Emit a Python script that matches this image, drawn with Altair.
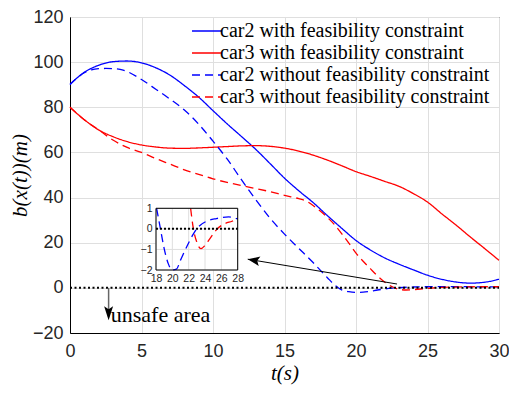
import altair as alt
import pandas as pd

SERIES = ["car2 with feasibility constraint", "car3 with feasibility constraint",
          "car2 without feasibility constraint", "car3 without feasibility constraint"]
COLORS = ["#0000ff", "#ff0000", "#0000ff", "#ff0000"]
DASHES = [[1, 0], [1, 0], [8, 5], [8, 5]]

# car2 with feasibility constraint (blue solid)
T_C2W = [0, 1, 2, 3, 4, 5, 6, 7, 8, 9, 10, 11, 12, 13, 14, 15, 16, 17, 18, 19, 20,
         21, 22, 23, 24, 25, 26, 27, 28, 29, 30]
B_C2W = [90.2, 95.5, 98.6, 100.2, 100.5, 99.7, 97.5, 94.2, 89.6, 84.5, 78.5, 72.6, 67, 61.3,
         55, 48.6, 43, 37.8, 32, 26.4, 21, 16.8, 13.3, 10.5, 8, 5.6, 3.8, 2.6, 2.1, 2.5, 3.8]

# car3 with feasibility constraint (red solid)
T_C3W = [0, 1, 2, 3, 4, 5, 6, 7, 8, 9, 10, 11, 12, 13, 14, 15, 16, 17, 18, 19, 20,
         21, 22, 23, 24, 25, 26, 27, 28, 29, 30]
B_C3W = [80, 74.5, 70, 67, 64.8, 63.3, 62.4, 61.9, 61.8, 62, 62.3, 62.6, 62.9, 63, 62.7,
         61.9, 60.6, 58.8, 56.6, 54.1, 51.5, 49.4, 47.2, 45, 41.8, 38, 32.8, 27.8, 22.5, 17.4, 12.2]

# car2 without feasibility constraint (blue dashed)
T_C2O = [0, 0.5, 1, 1.5, 2, 2.5, 3, 3.5, 4, 5, 6, 7, 8, 9, 10, 11, 12, 13, 14, 15, 16, 17,
         18, 18.5, 19, 19.5, 20, 20.5, 21, 21.5, 22, 22.5, 23, 24, 25, 26, 27, 28, 29, 30]
B_C2O = [90, 93, 95.3, 96.6, 97.1, 97.2, 97.1, 96.8, 95.8, 92.3, 88, 83.6, 78.8, 72.5, 65, 57,
         47.8, 39, 30.8, 23.8, 17.5, 11.2, 4.5, 1.3, -0.9, -1.7, -2, -1.9, -1.5, -0.95, -0.5,
         -0.15, 0.1, 0.37, 0.5, 0.55, 0.58, 0.5, 0.45, 0.4]

# car3 without feasibility constraint (red dashed)
T_C3O = [0, 1, 2, 3, 4, 5, 6, 7, 8, 9, 10, 11, 12, 13, 14, 15, 16, 16.5, 17, 17.5, 18, 18.5,
         19, 19.5, 20, 20.5, 21, 21.5, 22, 22.5, 23, 23.5, 24, 24.5, 25, 25.5, 26, 27, 28, 29, 30]
B_C3O = [80, 74.5, 70, 65.5, 62.2, 60, 57.3, 54.8, 52.3, 50.3, 48.3, 46.7, 45.3, 44, 42.6, 41,
         39.5, 38.5, 36.5, 34, 31.2, 28, 24, 19.8, 15.4, 11.8, 8.5, 5.3, 2.6, 0.6, -0.6, -0.95,
         -0.8, -0.5, -0.2, 0, 0.2, 0.35, 0.47, 0.5, 0.5]

# inset (zoom of 18..28 s, -2..1 m)
IN_T_C2O = [18.08, 18.5, 19.0, 19.5, 20.0, 20.5, 21.0, 21.75, 22.6, 23.2, 24.2, 25.4, 26.9, 27.9, 28.0]
IN_B_C2O = [0.99, 0.1, -0.96, -1.69, -2.0, -1.96, -1.52, -0.88, -0.23, 0.1, 0.37, 0.5, 0.58, 0.5, 0.49]
IN_T_C3O = [22.24, 22.57, 22.98, 23.5, 24.0, 24.6, 25.5, 26.2, 27.3, 28.0]
IN_B_C3O = [0.99, 0.02, -0.63, -0.96, -0.8, -0.47, 0.0, 0.21, 0.37, 0.47]
IN_X_TICKS = [18, 20, 22, 24, 26, 28]
IN_Y_TICKS = [-2, -1, 0, 1]

X_TICKS = [0, 5, 10, 15, 20, 25, 30]
Y_TICKS = [-20, 0, 20, 40, 60, 80, 100, 120]

# annotations
ZERO_T = [0, 30]
ARROW = {"t": [22.87], "b": [1.7], "t2": [12.43], "b2": [12.7]}
UNSAFE_ARROW = {"t": [2.7], "b": [0], "t2": [2.7], "b2": [-13.0]}
UNSAFE_HEAD = {"t": [2.7], "b": [-14.4]}
UNSAFE_TEXT = {"t": [2.85], "b": [-15.1], "label": ["unsafe area"]}

rows = []
for name, ts, bs in zip(SERIES, [T_C2W, T_C3W, T_C2O, T_C3O], [B_C2W, B_C3W, B_C2O, B_C3O]):
    rows += [{"t": t, "b": b, "series": name} for t, b in zip(ts, bs)]
df = pd.DataFrame(rows)

in_rows = []
for name, ts, bs in [(SERIES[2], IN_T_C2O, IN_B_C2O), (SERIES[3], IN_T_C3O, IN_B_C3O)]:
    in_rows += [{"it": t, "ib": b, "series": name} for t, b in zip(ts, bs)]
df_in = pd.DataFrame(in_rows)

SERIF = "Liberation Serif"
SANS = "Liberation Sans"

TOP = 17  # page y of the plot's top edge
W, H = 429, 316
xs = alt.Scale(domain=[0, 30], nice=False, zero=False)
ys = alt.Scale(domain=[-20, 120], nice=False, zero=False)
xaxis = alt.Axis(values=X_TICKS, grid=True, ticks=False, domainColor="black",
                 labelFont=SANS, labelFontSize=18, labelColor="#262626", labelFlush=False,
                 labelPadding=9, title="t(s)", titleFont=SERIF,
                 titleFontStyle="italic", titleFontWeight="normal", titleFontSize=21,
                 titleColor="black", titlePadding=2)
yaxis = alt.Axis(values=Y_TICKS, grid=True, ticks=False, domainColor="black",
                 labelFont=SANS, labelFontSize=18, labelColor="#262626", labelFlush=False,
                 labelPadding=7, title="b(x(t))(m)", titleFont=SERIF,
                 titleFontStyle="italic", titleFontWeight="normal", titleFontSize=21,
                 titleColor="black", titlePadding=2)

def X(f="t"):
    return alt.X(f + ":Q", scale=xs, axis=xaxis)

def Y(f="b"):
    return alt.Y(f + ":Q", scale=ys, axis=yaxis)

leg = alt.Legend(title=None, orient="none", legendX=127, legendY=31 - TOP - 10,
                 symbolType="M-3,0L3,0", symbolSize=100, symbolStrokeWidth=1.3,
                 labelFont=SERIF, labelFontSize=20, labelColor="black", labelLimit=0,
                 rowPadding=2, padding=0, labelOffset=3)
cscale = alt.Scale(domain=SERIES, range=COLORS)
dscale = alt.Scale(domain=SERIES, range=DASHES)

lines = alt.Chart(df).mark_line(strokeWidth=1.3, interpolate="monotone").encode(
    x=X(), y=Y(),
    color=alt.Color("series:N", scale=cscale, legend=leg),
    strokeDash=alt.StrokeDash("series:N", scale=dscale, legend=leg),
)

zero = alt.Chart(pd.DataFrame({"t": ZERO_T, "b": [0, 0]})).mark_line(
    color="black", strokeWidth=2, strokeDash=[2, 2.5]).encode(x=X(), y=Y())

arrow_line = alt.Chart(pd.DataFrame(ARROW)).mark_rule(color="black", strokeWidth=1).encode(
    x=X(), y=Y(), x2="t2:Q", y2="b2:Q")
arrow_head = alt.Chart(pd.DataFrame({"t": ARROW["t2"], "b": ARROW["b2"]})).mark_point(
    shape="M0,0L1,-0.4L0.8,0L1,0.4Z", filled=True, color="black", opacity=1,
    size=576, angle=10, strokeWidth=0).encode(x=X(), y=Y())

unsafe_line = alt.Chart(pd.DataFrame(UNSAFE_ARROW)).mark_rule(color="#666666", strokeWidth=1.5).encode(
    x=X(), y=Y(), x2="t2:Q", y2="b2:Q")
unsafe_head = alt.Chart(pd.DataFrame(UNSAFE_HEAD)).mark_point(
    shape="M0,0L-0.32,-1L0,-0.8L0.32,-1Z", filled=True, color="black", opacity=1,
    size=784, strokeWidth=0).encode(x=X(), y=Y())
unsafe_text = alt.Chart(pd.DataFrame(UNSAFE_TEXT)).mark_text(
    align="left", baseline="alphabetic", font=SERIF, fontSize=22,
    color="black").encode(x=X(), y=Y(), text="label:N")

main = alt.layer(lines, zero, arrow_line, arrow_head, unsafe_line, unsafe_head, unsafe_text)

# inset, placed at page x 156..238, y 208..270
IX0, IX1 = 156 - 70, 237.7 - 70
IY0, IY1 = 208.3 - TOP, 270.0 - TOP
ixs = alt.Scale(domain=[18, 28], range=[IX0, IX1], nice=False, zero=False)
iys = alt.Scale(domain=[-2, 1], range=[IY1, IY0], nice=False, zero=False)
ixaxis = alt.Axis(orient="bottom", offset=IY1 - H, values=IN_X_TICKS, grid=False, domain=False,
                  ticks=False, labelFont=SANS, labelFontSize=10.5, labelOverlap=False,
                  labelFlush=False, labelColor="#262626", labelPadding=3, title=None)
iyaxis = alt.Axis(orient="left", offset=-IX0, values=IN_Y_TICKS, grid=False, domain=False,
                  ticks=False, labelFont=SANS, labelFontSize=10.5, labelOverlap=False,
                  labelFlush=False, labelColor="#262626", labelPadding=4, title=None)

def IX(f="it"):
    return alt.X(f + ":Q", scale=ixs, axis=ixaxis)

def IY(f="ib"):
    return alt.Y(f + ":Q", scale=iys, axis=iyaxis)

frame_df = pd.DataFrame({"it": [IN_X_TICKS[0]], "it2": [IN_X_TICKS[-1]],
                         "ib": [IN_Y_TICKS[0]], "ib2": [IN_Y_TICKS[-1]]})
frame_bg = alt.Chart(frame_df).mark_rect(fill="white").encode(
    x=IX(), x2="it2:Q", y=IY(), y2="ib2:Q")
vgrid = alt.Chart(pd.DataFrame({"it": IN_X_TICKS, "ib": [IN_Y_TICKS[0]] * len(IN_X_TICKS),
                                "ib2": [IN_Y_TICKS[-1]] * len(IN_X_TICKS)})).mark_rule(
    color="#dedede", strokeWidth=1).encode(x=IX(), y=IY(), y2="ib2:Q")
hgrid = alt.Chart(pd.DataFrame({"ib": IN_Y_TICKS, "it": [IN_X_TICKS[0]] * len(IN_Y_TICKS),
                                "it2": [IN_X_TICKS[-1]] * len(IN_Y_TICKS)})).mark_rule(
    color="#dedede", strokeWidth=1).encode(x=IX(), x2="it2:Q", y=IY())
in_lines = alt.Chart(df_in).mark_line(strokeWidth=1.3, interpolate="monotone").encode(
    x=IX(), y=IY(),
    color=alt.Color("series:N", scale=cscale, legend=None),
    strokeDash=alt.StrokeDash("series:N", scale=dscale, legend=None),
)
in_zero = alt.Chart(pd.DataFrame({"it": [IN_X_TICKS[0], IN_X_TICKS[-1]], "ib": [0, 0]})).mark_line(
    color="black", strokeWidth=2, strokeDash=[2, 2]).encode(x=IX(), y=IY())
frame_line = alt.Chart(frame_df).mark_rect(fill=None, stroke="black", strokeWidth=1).encode(
    x=IX(), x2="it2:Q", y=IY(), y2="ib2:Q")

inset = alt.layer(frame_bg, vgrid, hgrid, in_lines, in_zero, frame_line)

chart = alt.layer(main, inset).resolve_scale(x="independent", y="independent").properties(
    width=W, height=H,
    autosize=alt.AutoSizeParams(type="none"),
    padding={"left": 62, "top": TOP - 8, "right": 10, "bottom": 377 - (TOP - 8) - H},
    background="white",
).configure_view(stroke="black", strokeWidth=1).configure_axis(
    gridColor="#dfdfdf", gridWidth=1)

chart.save("out.html", embed_options={"renderer": "svg", "actions": False})
